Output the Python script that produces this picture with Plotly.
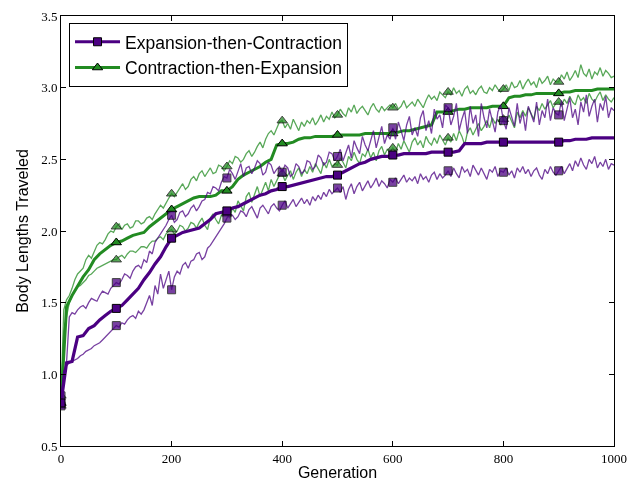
import plotly.graph_objects as go

# generations for the median curves (every 10) and the noisy quartile curves (every 5)
gens_median = list(range(0, 1001, 10))
gens_band = list(range(0, 1001, 5))

green_upper = [
    0.85, 1.45, 1.52, 1.55, 1.60, 1.66, 1.70, 1.72, 1.74, 1.80, 1.83, 1.81, 1.85, 1.90, 1.92, 1.91, 1.94, 1.98, 2.00, 1.99,
    2.03, 2.05, 2.01, 2.04, 2.05, 2.02, 2.03, 2.07, 2.07, 2.05, 2.06, 2.09, 2.10, 2.08, 2.12, 2.15, 2.18, 2.16, 2.20, 2.23,
    2.26, 2.24, 2.27, 2.30, 2.33, 2.29, 2.31, 2.36, 2.38, 2.35, 2.40, 2.42, 2.38, 2.41, 2.44, 2.40, 2.41, 2.46, 2.45, 2.42,
    2.45, 2.49, 2.47, 2.52, 2.51, 2.48, 2.50, 2.54, 2.56, 2.52, 2.55, 2.59, 2.62, 2.58, 2.64, 2.68, 2.70, 2.67, 2.72, 2.76,
    2.77, 2.72, 2.75, 2.71, 2.78, 2.74, 2.70, 2.76, 2.73, 2.77, 2.75, 2.79, 2.74, 2.77, 2.81, 2.76, 2.80, 2.78, 2.83, 2.79,
    2.81, 2.85, 2.82, 2.80, 2.86, 2.83, 2.88, 2.82, 2.85, 2.87, 2.84, 2.81, 2.86, 2.89, 2.85, 2.83, 2.87, 2.84, 2.86, 2.88,
    2.86, 2.89, 2.85, 2.87, 2.91, 2.86, 2.88, 2.90, 2.87, 2.92, 2.89, 2.86, 2.91, 2.95, 2.92, 2.94, 2.91, 2.97, 2.95, 2.93,
    2.97, 2.95, 3.00, 2.96, 2.98, 2.94, 2.99, 3.01, 2.96, 2.98, 2.95, 2.99, 3.01, 2.97, 2.96, 3.00, 2.98, 3.02, 2.99, 2.97,
    2.99, 3.02, 2.98, 3.04, 3.00, 3.01, 3.05, 2.99, 3.03, 3.06, 3.02, 3.04, 3.00, 3.07, 3.03, 3.05, 3.08, 3.02, 3.06, 3.04,
    3.04, 3.09, 3.06, 3.11, 3.05, 3.08, 3.12, 3.07, 3.16, 3.10, 3.08, 3.13, 3.06, 3.11, 3.09, 3.14, 3.08, 3.12, 3.10, 3.07,
    3.08]

green_median = [
    0.80, 1.47, 1.55, 1.62, 1.68, 1.73, 1.80, 1.84, 1.87, 1.90,
    1.92, 1.93, 1.95, 1.97, 1.98, 1.99, 2.03, 2.06, 2.09, 2.12,
    2.15, 2.17, 2.19, 2.21, 2.23, 2.24, 2.24, 2.24, 2.25, 2.28,
    2.28, 2.31, 2.36, 2.39, 2.41, 2.43, 2.45, 2.48, 2.50, 2.60,
    2.61, 2.61, 2.62, 2.64, 2.65, 2.65, 2.66, 2.66, 2.66, 2.66,
    2.67, 2.67, 2.67, 2.67, 2.67, 2.68, 2.68, 2.68, 2.68, 2.68,
    2.68, 2.69, 2.70, 2.70, 2.71, 2.72, 2.73, 2.74, 2.83, 2.83,
    2.83, 2.84, 2.85, 2.85, 2.86, 2.86, 2.86, 2.86, 2.87, 2.87,
    2.87, 2.93, 2.94, 2.94, 2.95, 2.95, 2.96, 2.96, 2.96, 2.96,
    2.96, 2.97, 2.97, 2.98, 2.98, 2.98, 2.98, 2.99, 2.99, 2.99,
    2.99]

green_lower = [
    0.78, 1.30, 1.40, 1.50, 1.55, 1.58, 1.61, 1.62, 1.64, 1.66, 1.69, 1.70, 1.72, 1.74, 1.75, 1.76, 1.77, 1.78, 1.79, 1.80,
    1.80, 1.82, 1.83, 1.81, 1.84, 1.86, 1.86, 1.85, 1.87, 1.89, 1.89, 1.88, 1.91, 1.93, 1.93, 1.95, 1.96, 1.94, 1.98, 2.00,
    2.01, 1.98, 2.00, 2.04, 2.03, 2.00, 2.02, 2.06, 2.05, 2.02, 2.06, 2.09, 2.04, 2.01, 2.09, 2.12, 2.08, 2.05, 2.11, 2.14,
    2.12, 2.09, 2.16, 2.13, 2.21, 2.17, 2.14, 2.24, 2.27, 2.20, 2.26, 2.31, 2.24, 2.29, 2.34, 2.28, 2.36, 2.31, 2.35, 2.39,
    2.40, 2.35, 2.39, 2.42, 2.36, 2.41, 2.44, 2.38, 2.43, 2.40, 2.45, 2.41, 2.47, 2.43, 2.40, 2.48, 2.44, 2.50, 2.45, 2.47,
    2.46, 2.51, 2.48, 2.44, 2.52, 2.49, 2.55, 2.50, 2.47, 2.54, 2.52, 2.57, 2.51, 2.55, 2.49, 2.56, 2.59, 2.53, 2.57, 2.55,
    2.58, 2.55, 2.61, 2.57, 2.63, 2.59, 2.55, 2.62, 2.65, 2.60, 2.63, 2.58, 2.66, 2.62, 2.60, 2.65, 2.61, 2.67, 2.63, 2.60,
    2.65, 2.62, 2.68, 2.63, 2.70, 2.66, 2.60, 2.69, 2.72, 2.67, 2.71, 2.75, 2.70, 2.73, 2.77, 2.72, 2.79, 2.75, 2.78, 2.74,
    2.78, 2.75, 2.81, 2.77, 2.72, 2.83, 2.79, 2.84, 2.80, 2.86, 2.82, 2.78, 2.87, 2.84, 2.89, 2.85, 2.88, 2.91, 2.86, 2.89,
    2.90, 2.87, 2.92, 2.89, 2.94, 2.90, 2.88, 2.95, 2.91, 2.93, 2.89, 2.96, 2.92, 2.90, 2.94, 2.97, 2.91, 2.95, 2.92, 2.90,
    2.93]

purple_upper = [
    0.85, 1.02, 1.08, 1.40, 1.43, 1.42, 1.45, 1.47, 1.48, 1.46, 1.50, 1.53, 1.52, 1.51, 1.55, 1.58, 1.57, 1.56, 1.60, 1.62,
    1.64, 1.63, 1.66, 1.70, 1.69, 1.67, 1.72, 1.75, 1.76, 1.74, 1.80, 1.78, 1.86, 1.84, 1.92, 1.95, 1.98, 2.01, 2.04, 2.08,
    2.11, 2.06, 2.08, 2.13, 2.14, 2.10, 2.12, 2.16, 2.18, 2.14, 2.17, 2.21, 2.22, 2.27, 2.26, 2.31, 2.30, 2.28, 2.34, 2.38,
    2.37, 2.43, 2.40, 2.36, 2.42, 2.47, 2.38, 2.44, 2.45, 2.40, 2.44, 2.49, 2.47, 2.39, 2.41, 2.48, 2.46, 2.40, 2.43, 2.45,
    2.41, 2.46, 2.44, 2.38, 2.40, 2.47, 2.45, 2.40, 2.42, 2.49, 2.48, 2.43, 2.45, 2.53, 2.51, 2.46, 2.48, 2.55, 2.54, 2.49,
    2.52, 2.57, 2.49, 2.55, 2.60, 2.51, 2.63, 2.58, 2.54, 2.66, 2.60, 2.56, 2.63, 2.70, 2.58, 2.66, 2.73, 2.61, 2.67, 2.64,
    2.72, 2.64, 2.76, 2.70, 2.63, 2.74, 2.80, 2.67, 2.72, 2.66, 2.79, 2.84, 2.70, 2.77, 2.68, 2.85, 2.78, 2.81, 2.72, 2.88,
    2.86, 2.74, 2.80, 2.89, 2.70, 2.78, 2.84, 2.68, 2.87, 2.75, 2.81, 2.66, 2.89, 2.79, 2.72, 2.85, 2.77, 2.69, 2.83, 2.88,
    2.77, 2.71, 2.86, 2.80, 2.73, 2.89, 2.75, 2.83, 2.70, 2.87, 2.81, 2.76, 2.90, 2.74, 2.84, 2.79, 2.92, 2.77, 2.86, 2.82,
    2.81, 2.91, 2.77, 2.86, 2.93, 2.79, 2.85, 2.74, 2.90, 2.83, 2.95, 2.80, 2.87, 2.92, 2.76, 2.89, 2.84, 2.94, 2.79, 2.86,
    2.84]

purple_median = [
    0.80, 1.08, 1.09, 1.26, 1.27, 1.32, 1.34, 1.38, 1.41, 1.44,
    1.46, 1.48, 1.52, 1.56, 1.60, 1.66, 1.71, 1.77, 1.82, 1.89,
    1.95, 1.97, 1.99, 2.00, 2.01, 2.02, 2.05, 2.08, 2.12, 2.13,
    2.14, 2.16, 2.17, 2.19, 2.21, 2.23, 2.25, 2.26, 2.28, 2.29,
    2.31, 2.31, 2.32, 2.33, 2.34, 2.35, 2.36, 2.37, 2.38, 2.38,
    2.39, 2.41, 2.43, 2.45, 2.47, 2.48, 2.50, 2.51, 2.52, 2.52,
    2.53, 2.53, 2.54, 2.54, 2.54, 2.54, 2.54, 2.55, 2.55, 2.55,
    2.55, 2.55, 2.56, 2.61, 2.61, 2.61, 2.61, 2.62, 2.62, 2.62,
    2.62, 2.62, 2.62, 2.62, 2.62, 2.62, 2.62, 2.62, 2.62, 2.62,
    2.62, 2.63, 2.63, 2.64, 2.64, 2.64, 2.65, 2.65, 2.65, 2.65,
    2.65]

purple_lower = [
    0.78, 1.02, 1.06, 1.08, 1.09, 1.10, 1.11, 1.13, 1.14, 1.16, 1.17, 1.18, 1.20, 1.21, 1.22, 1.24, 1.26, 1.28, 1.30, 1.32,
    1.34, 1.33, 1.36, 1.35, 1.38, 1.40, 1.41, 1.39, 1.44, 1.42, 1.45, 1.50, 1.55, 1.48, 1.62, 1.56, 1.70, 1.60, 1.66, 1.72,
    1.59, 1.68, 1.72, 1.70, 1.76, 1.78, 1.74, 1.79, 1.80, 1.84, 1.85, 1.80, 1.82, 1.88, 1.90, 1.93, 1.96, 1.99, 2.02, 2.05,
    2.09, 2.12, 2.11, 2.08, 2.10, 2.14, 2.13, 2.10, 2.15, 2.17, 2.13, 2.09, 2.16, 2.18, 2.15, 2.12, 2.17, 2.19, 2.16, 2.14,
    2.18, 2.21, 2.16, 2.19, 2.22, 2.17, 2.20, 2.23, 2.19, 2.22, 2.18, 2.24, 2.21, 2.25, 2.22, 2.27, 2.24, 2.29, 2.26, 2.28,
    2.30, 2.27, 2.31, 2.22, 2.29, 2.33, 2.26, 2.31, 2.34, 2.28, 2.32, 2.35, 2.30, 2.33, 2.37, 2.31, 2.35, 2.33, 2.30, 2.36,
    2.34, 2.37, 2.33, 2.36, 2.39, 2.34, 2.37, 2.35, 2.38, 2.33, 2.40, 2.36, 2.38, 2.34, 2.39, 2.41, 2.36, 2.40, 2.37, 2.39,
    2.42, 2.38, 2.44, 2.40, 2.37, 2.45, 2.41, 2.43, 2.38, 2.46, 2.42, 2.39, 2.44, 2.40, 2.36, 2.43, 2.41, 2.45, 2.38, 2.42,
    2.41, 2.44, 2.39, 2.42, 2.37, 2.44, 2.41, 2.45, 2.40, 2.43, 2.38, 2.42, 2.44, 2.39, 2.36, 2.43, 2.40, 2.45, 2.41, 2.39,
    2.42, 2.45, 2.40, 2.44, 2.47, 2.42, 2.49, 2.45, 2.51, 2.46, 2.43, 2.50, 2.47, 2.52, 2.44, 2.48, 2.45, 2.50, 2.43, 2.47,
    2.46]

for band in (green_upper, green_lower, purple_upper, purple_lower):
    assert len(band) == len(gens_band)
for med in (green_median, purple_median):
    assert len(med) == len(gens_median)

series_names = ["Expansion-then-Contraction", "Contraction-then-Expansion"]
x_ticks = [0, 200, 400, 600, 800, 1000]
y_ticks = [0.5, 1.0, 1.5, 2.0, 2.5, 3.0, 3.5]
marker_every = 100   # generations between markers
marker_last = 900    # last generation carrying a marker

PURPLE = "#4B0082"
GREEN = "#228B22"

fig = go.Figure()

# legend entries
fig.add_trace(go.Scatter(x=[None], y=[None], mode="lines+markers", name=series_names[0],
                         line=dict(color=PURPLE, width=3),
                         marker=dict(symbol="square", size=8, color=PURPLE,
                                     line=dict(color="black", width=1))))
fig.add_trace(go.Scatter(x=[None], y=[None], mode="lines+markers", name=series_names[1],
                         line=dict(color=GREEN, width=3),
                         marker=dict(symbol="triangle-up", size=9, color=GREEN,
                                     line=dict(color="black", width=1))))


def add_series(xs, ys, color, symbol, width, opacity, msize):
    fig.add_trace(go.Scatter(x=xs, y=ys, mode="lines", showlegend=False,
                             line=dict(color=color, width=width),
                             opacity=opacity, hoverinfo="skip"))
    mx = [x for x in xs if x % marker_every == 0 and x <= marker_last]
    my = [y for x, y in zip(xs, ys) if x % marker_every == 0 and x <= marker_last]
    fig.add_trace(go.Scatter(x=mx, y=my, mode="markers", showlegend=False, opacity=opacity,
                             marker=dict(symbol=symbol, size=msize, color=color,
                                         line=dict(color="black", width=1)),
                             hoverinfo="skip"))


add_series(gens_band, green_upper, GREEN, "triangle-up", 1.3, 0.75, 9)
add_series(gens_band, green_lower, GREEN, "triangle-up", 1.3, 0.75, 9)
add_series(gens_median, green_median, GREEN, "triangle-up", 3, 1.0, 9)
add_series(gens_band, purple_upper, PURPLE, "square", 1.3, 0.75, 8)
add_series(gens_band, purple_lower, PURPLE, "square", 1.3, 0.75, 8)
add_series(gens_median, purple_median, PURPLE, "square", 3.2, 1.0, 8)

axis_common = dict(showline=True, linecolor="black", linewidth=1, mirror="ticks",
                   ticks="inside", ticklen=5, tickcolor="black", showgrid=False,
                   zeroline=False, automargin=False,
                   tickfont=dict(family="Liberation Serif", size=13, color="black"))

fig.update_layout(
    width=631, height=481,
    margin=dict(l=61, r=17, t=16, b=35),
    paper_bgcolor="white", plot_bgcolor="white",
    xaxis=dict(range=[0, 1000], tickvals=x_ticks, ticktext=[str(v) for v in x_ticks],
               title=dict(text="Generation", standoff=2,
                          font=dict(family="Liberation Sans", size=16, color="black")),
               **axis_common),
    yaxis=dict(range=[0.5, 3.5], tickvals=y_ticks, ticktext=[f"{v:.1f}" for v in y_ticks],
               title=dict(text="Body Lengths Traveled", standoff=8,
                          font=dict(family="Liberation Sans", size=16, color="black")),
               **axis_common),
    legend=dict(x=0.0145, y=0.984, xanchor="left", yanchor="top",
                bordercolor="black", borderwidth=1, bgcolor="white",
                font=dict(family="Liberation Sans", size=17.5, color="black"),
                tracegroupgap=0, itemwidth=45),
    showlegend=True,
)

fig.write_html("out.html")
